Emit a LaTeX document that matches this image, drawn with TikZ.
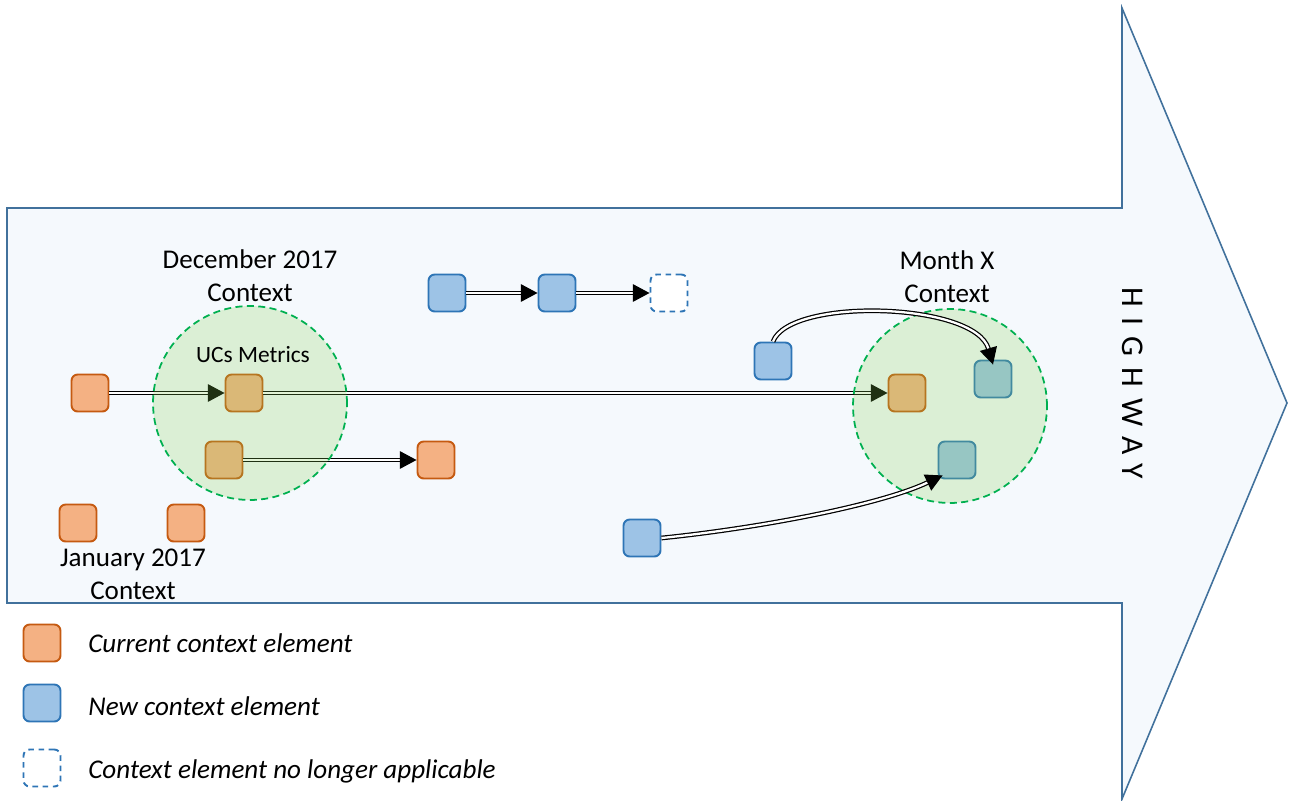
\documentclass[tikz,border=0pt]{standalone}
\usepackage{fontspec}
\setmainfont{Carlito}
\usetikzlibrary{arrows.meta,calc}

\definecolor{roadfill}{HTML}{F5F9FD}
\definecolor{roadline}{HTML}{41719C}
\definecolor{curfill}{HTML}{F4B183}
\definecolor{curline}{HTML}{C55A11}
\definecolor{newfill}{HTML}{9DC3E6}
\definecolor{newline}{HTML}{2E75B6}
\definecolor{ctxfill}{HTML}{87D153}
\definecolor{ctxline}{HTML}{00B050}

\tikzset{
  elem/.style={rectangle, rounded corners=3.5pt, line width=1.1pt,
    minimum size=0.74cm, inner sep=0pt},
  curelem/.style={elem, fill=curfill, draw=curline},
  newelem/.style={elem, fill=newfill, draw=newline},
  oldelem/.style={elem, fill=white, draw=newline, dash pattern=on 3.2pt off 2.6pt},
  ctxzone/.style={circle, minimum size=3.88cm, inner sep=0pt, fill=ctxfill,
    fill opacity=0.23, draw=ctxline, draw opacity=1, line width=1pt,
    dash pattern=on 4pt off 2.5pt},
  flow/.style={draw=black, line width=0.7pt, double=white, double distance=1.3pt,
    -{Triangle[length=9.5pt,width=10pt]}},
  lbl/.style={font=\fontsize{15.4}{18.7}\selectfont, align=center, inner sep=0pt},
  legtext/.style={font=\fontsize{15.4}{18.7}\selectfont\itshape, anchor=west, inner sep=0pt}
}

\begin{document}
\begin{tikzpicture}[x=0.02cm,y=-0.02cm]
\useasboundingbox (0,0) rectangle (1289,801);

% highway arrow
\draw[fill=roadfill, draw=roadline, line width=0.9pt, line join=miter]
  (7,208) -- (1122,208) -- (1122,8) -- (1287,403) -- (1122,799)
  -- (1122,603) -- (7,603) -- cycle;
\node[rotate=-90, inner sep=0pt, font=\fontsize{18}{21}\selectfont\addfontfeature{LetterSpace=35}]
  (hw) at (1133,383) {HIGHWAY};

% context elements
\node[curelem] (c1) at (90,393) {};
\node[curelem] (c2) at (244,393) {};
\node[curelem] (c3) at (224,460) {};
\node[curelem] (c4) at (436,460) {};
\node[curelem] (c5) at (78,523) {};
\node[curelem] (c6) at (186,523) {};
\node[curelem] (c7) at (907,393) {};
\node[newelem] (n1) at (447,293) {};
\node[newelem] (n2) at (557,293) {};
\node[oldelem] (o1) at (669,293) {};
\node[newelem] (n3) at (773,361) {};
\node[newelem] (n4) at (993,379) {};
\node[newelem] (n5) at (957,460) {};
\node[newelem] (n6) at (642,538) {};

% straight transitions
\draw[flow] (c1) -- (c2);
\draw[flow] (c3) -- (c4);
\draw[flow] (c2) -- (c7);
\draw[flow] (n1) -- (n2);
\draw[flow] (n2) -- (o1);

% monthly contexts
\node[ctxzone] (dec) at (250,403) {};
\node[ctxzone] (mx) at (950,406) {};

% curved transitions
\draw[flow] (n3.north) .. controls (790,297) and (975,302) .. ($(n4.north)+(0,5)$);
\draw[flow] (n6.east) .. controls (760,528) and (880,505) .. ($(n5.south west)+(5,-4)$);

% labels
\node[lbl] (tdec) at (250,276) {December 2017\\Context};
\node[lbl, font=\fontsize{13.3}{15}\selectfont] (tuc) at (253,355) {UCs Metrics};
\node[lbl] (tmx) at (947,277) {Month X\\Context};
\node[lbl] (tjan) at (133,574) {January 2017\\Context};

% legend
\node[curelem] (l1) at (42,643) {};
\node[newelem] (l2) at (42,703) {};
\node[oldelem] (l3) at (42,768) {};
\node[legtext] (lt1) at (88,643) {Current context element};
\node[legtext] (lt2) at (88,706) {New context element};
\node[legtext] (lt3) at (88,771) {Context element no longer applicable};
\end{tikzpicture}
\end{document}
